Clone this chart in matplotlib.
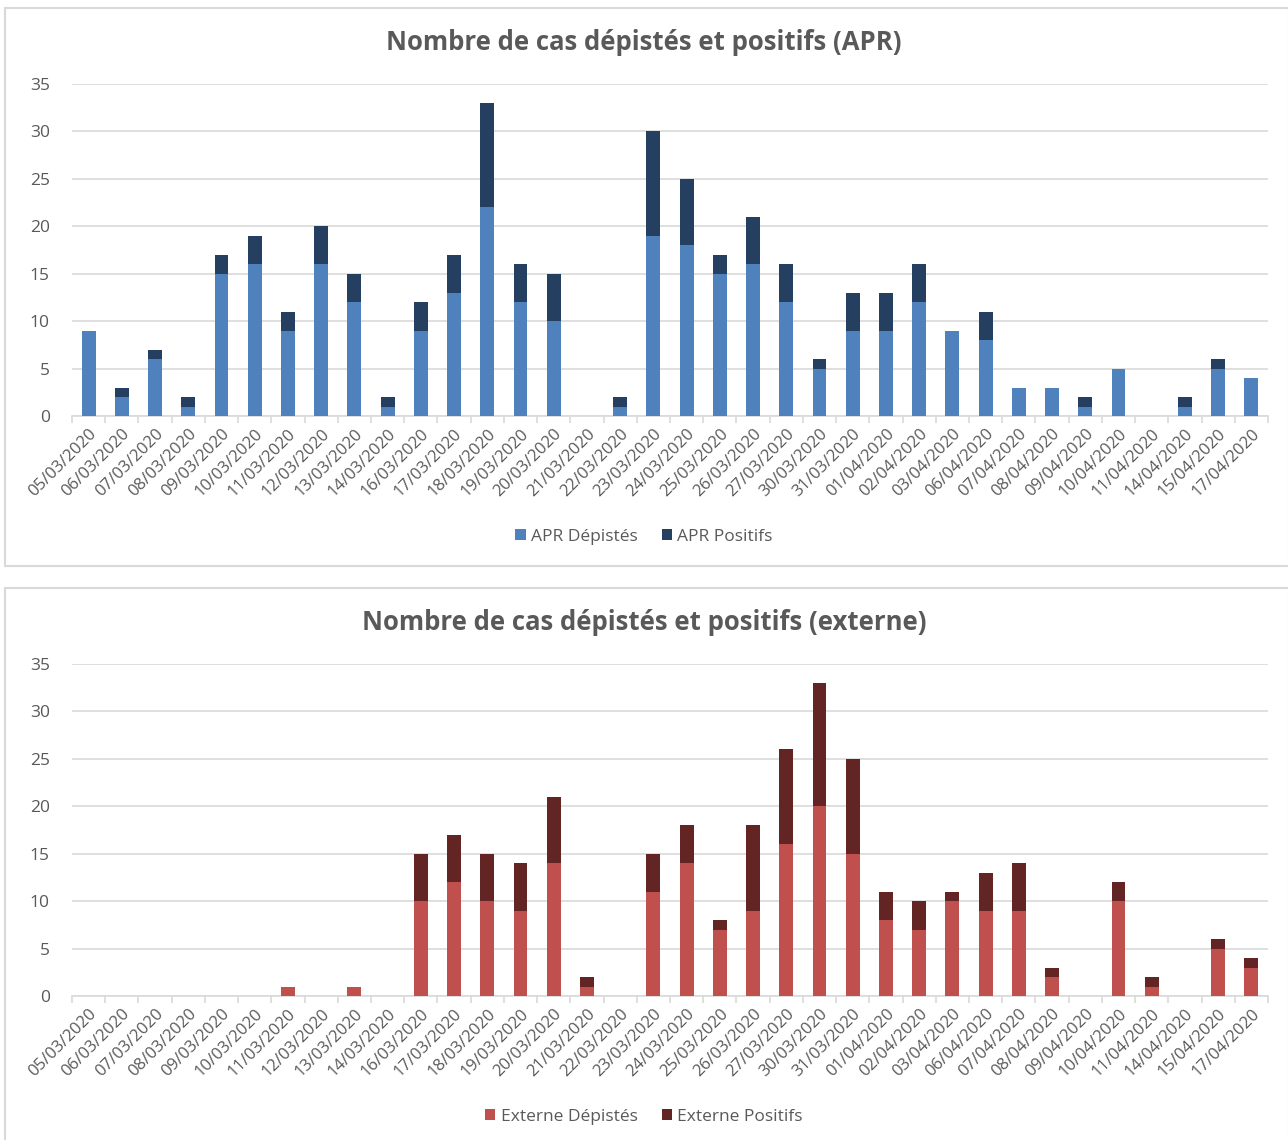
import numpy as np
import matplotlib
matplotlib.use('Agg')
import matplotlib.pyplot as plt
from matplotlib.patches import Rectangle

plt.rcParams['font.family'] = ['Open Sans', 'DejaVu Sans']

dates = ["05/03/2020", "06/03/2020", "07/03/2020", "08/03/2020", "09/03/2020",
         "10/03/2020", "11/03/2020", "12/03/2020", "13/03/2020", "14/03/2020",
         "16/03/2020", "17/03/2020", "18/03/2020", "19/03/2020", "20/03/2020",
         "21/03/2020", "22/03/2020", "23/03/2020", "24/03/2020", "25/03/2020",
         "26/03/2020", "27/03/2020", "30/03/2020", "31/03/2020", "01/04/2020",
         "02/04/2020", "03/04/2020", "06/04/2020", "07/04/2020", "08/04/2020",
         "09/04/2020", "10/04/2020", "11/04/2020", "14/04/2020", "15/04/2020",
         "17/04/2020"]

apr_depistes = [9, 2, 6, 1, 15, 16, 9, 16, 12, 1, 9, 13, 22, 12, 10, 0, 1, 19,
                18, 15, 16, 12, 5, 9, 9, 12, 9, 8, 3, 3, 1, 5, 0, 1, 5, 4]
apr_positifs = [0, 1, 1, 1, 2, 3, 2, 4, 3, 1, 3, 4, 11, 4, 5, 0, 1, 11,
                7, 2, 5, 4, 1, 4, 4, 4, 0, 3, 0, 0, 1, 0, 0, 1, 1, 0]

ext_depistes = [0, 0, 0, 0, 0, 0, 1, 0, 1, 0, 10, 12, 10, 9, 14, 1, 0, 11,
                14, 7, 9, 16, 20, 15, 8, 7, 10, 9, 9, 2, 0, 10, 1, 0, 5, 3]
ext_positifs = [0, 0, 0, 0, 0, 0, 0, 0, 0, 0, 5, 5, 5, 5, 7, 1, 0, 4,
                4, 1, 9, 10, 13, 10, 3, 3, 1, 4, 5, 1, 0, 2, 1, 0, 1, 1]

W, H = 1288, 1140
fig = plt.figure(figsize=(W / 100, H / 100), dpi=100)
fig.patch.set_facecolor('white')

TXT = '#595959'
GRID = '#D9D9D9'


def px_axes(x0, x1, y_top, y_bot):
    return fig.add_axes([x0 / W, 1 - y_bot / H, (x1 - x0) / W, (y_bot - y_top) / H])


def panel(y_box_top, y_box_bot, y_top, y_bot, title, dep, pos, c_dep, c_pos, labels):
    # outer chart border
    fig.patches.append(Rectangle((5 / W, 1 - y_box_bot / H), (W - 4) / W,
                                 (y_box_bot - y_box_top) / H, transform=fig.transFigure,
                                 fill=False, edgecolor=GRID, lw=1.5))
    ax = px_axes(72, 1268, y_top, y_bot)
    x = np.arange(len(dates))
    ax.bar(x, dep, width=0.42, color=c_dep, label=labels[0], zorder=3)
    ax.bar(x, pos, width=0.42, bottom=dep, color=c_pos, label=labels[1], zorder=3)
    ax.set_xlim(-0.5, len(dates) - 0.5)
    ax.set_ylim(0, 35)
    ax.set_yticks(range(0, 36, 5))
    ax.yaxis.grid(True, color=GRID, lw=1.2, zorder=0)
    ax.set_xticks(x)
    ax.set_xticklabels(dates, rotation=45, ha='right', rotation_mode='anchor',
                       fontsize=12, color=TXT)
    ax.set_xticks(np.arange(-0.5, len(dates)), minor=True)
    ax.tick_params(axis='x', which='major', length=0, pad=7)
    ax.tick_params(axis='x', which='minor', length=5, color=GRID, width=1.2)
    ax.tick_params(axis='y', length=0, labelsize=12.5, labelcolor=TXT, pad=16)
    for s in ['top', 'right', 'left']:
        ax.spines[s].set_visible(False)
    ax.spines['bottom'].set_color(GRID)
    ax.spines['bottom'].set_linewidth(1.2)
    fig.text(0.5, 1 - (y_top - 42) / H, title, ha='center', va='center',
             fontsize=18.5, fontweight='bold', color=TXT)
    ax.legend(loc='center', bbox_to_anchor=(0.5, 1 - (y_box_bot - 29) / H),
              bbox_transform=fig.transFigure, ncol=2, frameon=False, fontsize=12.5,
              labelcolor=TXT, handlelength=0.6, handleheight=0.6,
              handletextpad=0.3, columnspacing=1.4)
    return ax


panel(8, 566, 84, 416, "Nombre de cas dépistés et positifs (APR)",
      apr_depistes, apr_positifs, '#4F81BD', '#243F60',
      ["APR Dépistés", "APR Positifs"])
panel(588, 1146, 664, 996, "Nombre de cas dépistés et positifs (externe)",
      ext_depistes, ext_positifs, '#C0504D', '#632523',
      ["Externe Dépistés", "Externe Positifs"])

fig.savefig('out.png', dpi=100)
